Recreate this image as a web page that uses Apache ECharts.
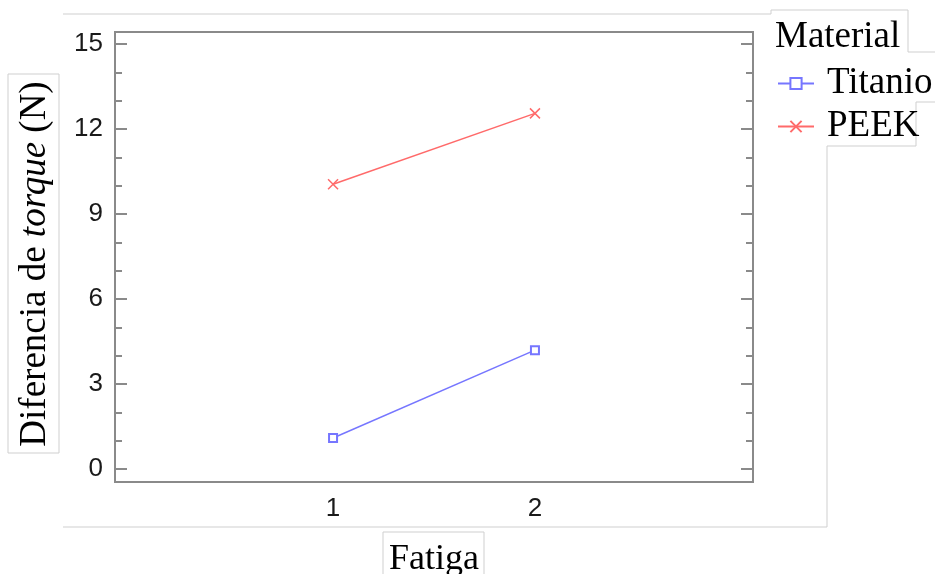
<!DOCTYPE html>
<html>
<head>
<meta charset="utf-8">
<script src="https://cdn.jsdelivr.net/npm/echarts@6/dist/echarts.min.js"></script>
<style>
  html, body { margin: 0; padding: 0; background: #fff; }
  #lineChart { width: 935px; height: 574px; }
</style>
</head>
<body>
<div id="lineChart"></div>
<script>
// datos
const fatiga = [1, 2]
const titanio = [1.1, 4.2]
const peek = [10.05, 12.55]
const yMajor = [0, 3, 6, 9, 12, 15]
const yMinor = [0, 1, 2, 3, 4, 5, 6, 7, 8, 9, 10, 11, 12, 13, 14, 15]

const serif = 'Liberation Serif'
const sans = 'Liberation Sans'
const frameColor = '#8a8a8a'
const boxColor = '#cfcfcf'

let chartInstance = echarts.init(document.getElementById('lineChart'))

function tickAxis(position, values, len, withLabel) {
  return {
    type: 'value',
    position: position,
    min: -0.45,
    max: 15.42,
    axisLine: { show: false, onZero: false },
    splitLine: { show: false },
    axisTick: {
      show: true,
      inside: true,
      length: len,
      customValues: values,
      lineStyle: { color: frameColor, width: 2 }
    },
    axisLabel: withLabel ? {
      show: true,
      customValues: values,
      margin: 12,
      fontFamily: sans,
      fontSize: 26,
      color: '#1a1a1a'
    } : { show: false }
  }
}

function seg(x1, y1, x2, y2) {
  return {
    type: 'line',
    silent: true,
    shape: { x1: x1, y1: y1, x2: x2, y2: y2 },
    style: { stroke: boxColor, lineWidth: 1 }
  }
}

const yMain = tickAxis('left', yMajor, 12, true)
yMain.name = 'Diferencia de {i|torque} (N)'
yMain.nameLocation = 'middle'
yMain.nameRotate = 90
yMain.nameGap = 61
yMain.nameTextStyle = {
  fontFamily: serif,
  fontSize: 37,
  color: '#000',
  padding: [0, 14, 0, 0],
  rich: { i: { fontFamily: serif, fontSize: 37, fontStyle: 'italic', color: '#000' } }
}

const option = {
  backgroundColor: '#ffffff',
  animation: false,
  grid: {
    left: 115,
    right: 182,
    top: 32,
    bottom: 92,
    outerBoundsMode: 'none',
    containLabel: false,
    show: true,
    borderColor: frameColor,
    borderWidth: 2
  },
  legend: {
    orient: 'vertical',
    left: 772,
    top: 60,
    itemWidth: 36,
    itemHeight: 14,
    itemGap: 6,
    textStyle: { fontFamily: serif, fontSize: 37, color: '#000', padding: [0, 0, 0, 8] },
    data: ['Titanio', 'PEEK']
  },
  xAxis: {
    type: 'value',
    min: -0.08,
    max: 3.08,
    axisLine: { show: false, onZero: false },
    axisTick: { show: false },
    splitLine: { show: false },
    axisLabel: {
      customValues: fatiga,
      margin: 14,
      fontFamily: sans,
      fontSize: 26,
      color: '#1a1a1a'
    },
    name: 'Fatiga',
    nameLocation: 'middle',
    nameGap: 60,
    nameTextStyle: { fontFamily: serif, fontSize: 36, color: '#000' }
  },
  yAxis: [
    yMain,
    tickAxis('left', yMinor, 7, false),
    tickAxis('right', yMajor, 12, false),
    tickAxis('right', yMinor, 7, false)
  ],
  series: [
    {
      name: 'Titanio',
      type: 'line',
      data: fatiga.map((x, i) => [x, titanio[i]]),
      symbol: 'emptyRect',
      symbolSize: 8,
      lineStyle: { color: '#7676ff', width: 1.5 },
      itemStyle: { color: '#7676ff', borderColor: '#7676ff', borderWidth: 1.5 }
    },
    {
      name: 'PEEK',
      type: 'line',
      data: fatiga.map((x, i) => [x, peek[i]]),
      symbol: 'path://M0,0L10,10M10,0L0,10',
      symbolSize: 10,
      lineStyle: { color: '#ff6a6a', width: 1.5 },
      itemStyle: { color: '#ff6a6a', borderColor: '#ff6a6a', borderWidth: 1.5 }
    }
  ],
  graphic: [
    // recuadros grises de la captura
    seg(63, 14, 771, 14),
    seg(771, 10, 771, 14),
    seg(771, 10, 908, 10),
    seg(908, 10, 908, 52),
    seg(908, 52, 935, 52),
    seg(916, 102, 935, 102),
    seg(916, 102, 916, 146),
    seg(827, 146, 916, 146),
    seg(827, 146, 827, 527),
    seg(63, 527, 827, 527),
    seg(8, 74, 59, 74),
    seg(8, 74, 8, 453),
    seg(59, 74, 59, 453),
    seg(8, 453, 59, 453),
    seg(383, 532, 484, 532),
    seg(383, 532, 383, 574),
    seg(484, 532, 484, 574),
    {
      type: 'text',
      left: 775,
      top: 19,
      style: { text: 'Material', fontFamily: serif, fontSize: 37, fill: '#000' }
    }
  ]
}
chartInstance.setOption(option)
</script>
</body>
</html>
